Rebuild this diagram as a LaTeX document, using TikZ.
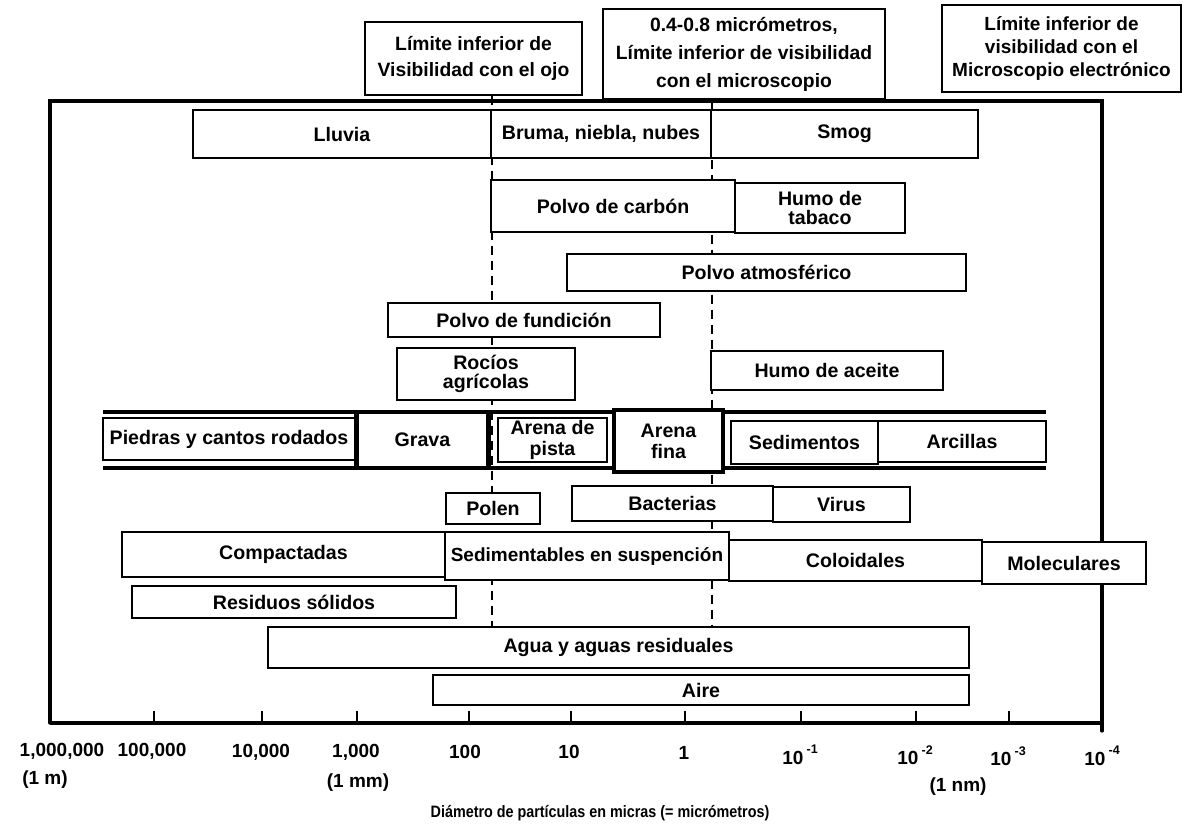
\documentclass[tikz,border=0pt]{standalone}
\usepackage{fontspec}
\usepackage{graphicx}
\usetikzlibrary{backgrounds}
\newfontfamily\lab{Liberation Sans Bold}
\newcommand\fs[2]{\fontsize{#1}{#2}\selectfont}
% \bx[options]{name}{x1}{y1}{x2}{y2}{text}: box between two corners
\newcommand\bx[7][]{%
  \node[box,minimum width={#5-#3},minimum height={#6-#4},#1] (#2)
    at ({(#3+#5)/2},{(#4+#6)/2}) {#7};}
\newcommand\expo[1]{10\,\raisebox{0.55em}{\fs{12.5}{13}#1}}
\tikzset{
  box/.style={draw,fill=white,line width=1.4pt,inner sep=0pt,align=center,font=\lab\fs{19.6}{21}},
  heavybox/.style={line width=2.8pt},
  thickbox/.style={line width=4.5pt},
  guide/.style={line width=1.9pt,dash pattern=on 9pt off 6pt},
  frameline/.style={line width=3.2pt},
  bandline/.style={line width=4.8pt},
  tickline/.style={line width=1.5pt},
  axislabel/.style={font=\lab\fs{19}{22},inner sep=0pt},
}
\begin{document}
\begin{tikzpicture}[x=1pt,y=-1pt]
\useasboundingbox (0,0) rectangle (1193,827);

% chart frame and size axis
\draw[frameline,line cap=round] (50,723) -- (50,101) -- (1102,101) -- (1102,731);
\draw[frameline] (50,723) -- (1102,723);
\foreach \x in {154,262,357,469,571,685,801,916,1009}
  \draw[tickline] (\x,723) -- (\x,711);

% visibility limits
\bx[font=\lab\fs{19.3}{26}]{ojo}{365}{22}{582}{95}{Límite inferior de\\Visibilidad con el ojo}
\bx[font=\lab\fs{19.3}{28}]{micro}{603}{9}{885}{99}{0.4-0.8 micrómetros,\\Límite inferior de visibilidad\\con el microscopio}
\bx[font=\lab\fs{19}{23}]{elec}{942}{5}{1181}{92}{Límite inferior de\\visibilidad con el\\Microscopio electrónico}

% atmospheric particles
\bx[heavybox]{lluvia}{193}{110}{491}{158}{\raisebox{-3pt}{Lluvia}}
\bx[heavybox]{bruma}{491}{110}{711}{158}{\raisebox{-4pt}{Bruma, niebla, nubes}}
\bx[heavybox]{smog}{711}{110}{978}{158}{\raisebox{-6pt}{Smog}}
\bx{carbon}{491}{180}{735}{232}{Polvo de carbón}
\bx[font=\lab\fs{19.6}{19}]{tabaco}{735}{183}{905}{233}{Humo de\\tabaco}
\bx{atmos}{567}{254}{966}{291}{Polvo atmosférico}
\bx{fundicion}{388}{303}{660}{337}{Polvo de fundición}
\bx[font=\lab\fs{19.6}{19}]{rocios}{397}{348}{575}{400}{Rocíos\\agrícolas}
\bx{aceite}{711}{351}{943}{390}{Humo de aceite}

% soil particle band
\coordinate (bandNW) at (103,412);
\coordinate (bandNE) at (1046,412);
\coordinate (bandSW) at (103,468);
\coordinate (bandSE) at (1046,468);
\draw[bandline] (bandNW) -- (bandNE);
\draw[bandline] (bandSW) -- (bandSE);
\bx{piedras}{103}{418}{355}{460}{Piedras y cantos rodados}
\bx[draw=none]{grava}{357}{414}{488}{466}{Grava}
\draw[bandline] (grava.north west) -- (grava.south west);
\draw[bandline] (grava.north east) -- (grava.south east);
\bx{pista}{498}{418}{607}{462}{Arena de\\pista}
\bx[thickbox]{fina}{614}{410}{723}{472}{Arena\\fina}
\bx{sedim}{731}{421}{878}{464}{Sedimentos}
\bx{arcillas}{878}{421}{1046}{462}{Arcillas}

% biological particles
\bx{polen}{446}{493}{540}{524}{Polen}
\bx{bacterias}{572}{486}{773}{521}{Bacterias}
\bx{virus}{773}{487}{910}{522}{Virus}

% particle classes
\bx{compact}{122}{532}{445}{577}{Compactadas}
\bx[font=\lab\fs{19}{21}]{sedimentables}{445}{532}{729}{580}{Sedimentables en suspención}
\bx{coloid}{729}{540}{982}{581}{Coloidales}
\bx{molec}{982}{542}{1146}{584}{\raisebox{-7pt}{Moleculares}}
\bx{residuos}{132}{586}{456}{618}{\raisebox{-6pt}{Residuos sólidos}}
\bx{agua}{268}{627}{969}{668}{\raisebox{-3pt}{Agua y aguas residuales}}
\bx{aire}{433}{675}{969}{705}{Aire}

% visibility guides behind the boxes
\begin{scope}[on background layer]
  \draw[guide] (ojo.south -| lluvia.east) -- (agua.north -| lluvia.east);
  \draw[guide] (micro.south -| bruma.east) -- (agua.north -| bruma.east);
\end{scope}

% axis labels
\node[axislabel] (l0) at (62,751) {1,000,000};
\node[axislabel] (l1) at (152,751) {100,000};
\node[axislabel] (l2) at (261,752) {10,000};
\node[axislabel] (l3) at (356,752) {1,000};
\node[axislabel] (l4) at (465,752) {100};
\node[axislabel] (l5) at (569,752) {10};
\node[axislabel] (l6) at (684,753) {1};
\node[axislabel] (l7) at (800,755) {\expo{-1}};
\node[axislabel] (l8) at (915,755) {\expo{-2}};
\node[axislabel] (l9) at (1008,756) {\expo{-3}};
\node[axislabel] (l10) at (1102,756) {\expo{-4}};
\node[axislabel] (um) at (45,780) {(1 m)};
\node[axislabel] (umm) at (358,783) {(1 mm)};
\node[axislabel] (unm) at (958,787) {(1 nm)};
\node[axislabel,font=\lab\fs{16.5}{20}] (titulo) at (600,813) {\scalebox{0.87}[1]{Diámetro de partículas en micras (= micrómetros)}};
\end{tikzpicture}
\end{document}
